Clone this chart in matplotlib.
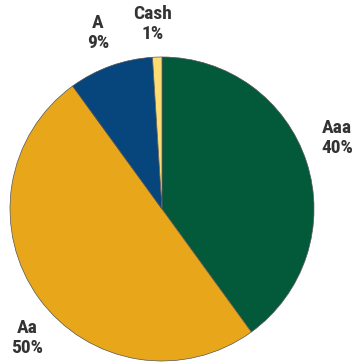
import numpy as np
import matplotlib
matplotlib.use("Agg")
from matplotlib import pyplot as plt
from matplotlib import font_manager

# portfolio split by credit quality
labels = ["Aaa", "Aa", "A", "Cash"]
shares = [40, 50, 9, 1]
colors = ["#035a3a", "#e8a71b", "#07467d", "#fddc74"]

# where each label sits on the figure (fraction of width / height)
label_pos = {
    "Aaa": (337 / 360, 1 - 138 / 362),
    "Aa": (27 / 360, 1 - 338 / 362),
    "A": (98 / 360, 1 - 33 / 362),
    "Cash": (153 / 360, 1 - 24 / 362),
}

# narrow bold face if there is one
names = {f.name for f in font_manager.fontManager.ttflist}
label_font = "DejaVu Sans"
for cand in ["Liberation Sans Narrow", "DejaVu Sans Condensed", "Roboto Condensed"]:
    if cand in names:
        label_font = cand
        break

fig = plt.figure(figsize=(3.6, 3.62), dpi=100)
ax = fig.add_axes([10 / 360, 1 / 362, 304 / 360, 304 / 362])

ax.pie(shares, colors=colors, startangle=90, counterclock=False, radius=1,
       wedgeprops={"edgecolor": "#555555", "linewidth": 0.5})
ax.set_xlim(-1, 1)
ax.set_ylim(-1, 1)
ax.set_aspect("equal")
ax.axis("off")

for name, val in zip(labels, shares):
    x, y = label_pos[name]
    fig.text(x, y, f"{name}\n{val}%", ha="center", va="center",
             fontsize=14, fontweight="bold", color="#333333",
             family=label_font, linespacing=1.15)

fig.savefig("out.png", dpi=100)
